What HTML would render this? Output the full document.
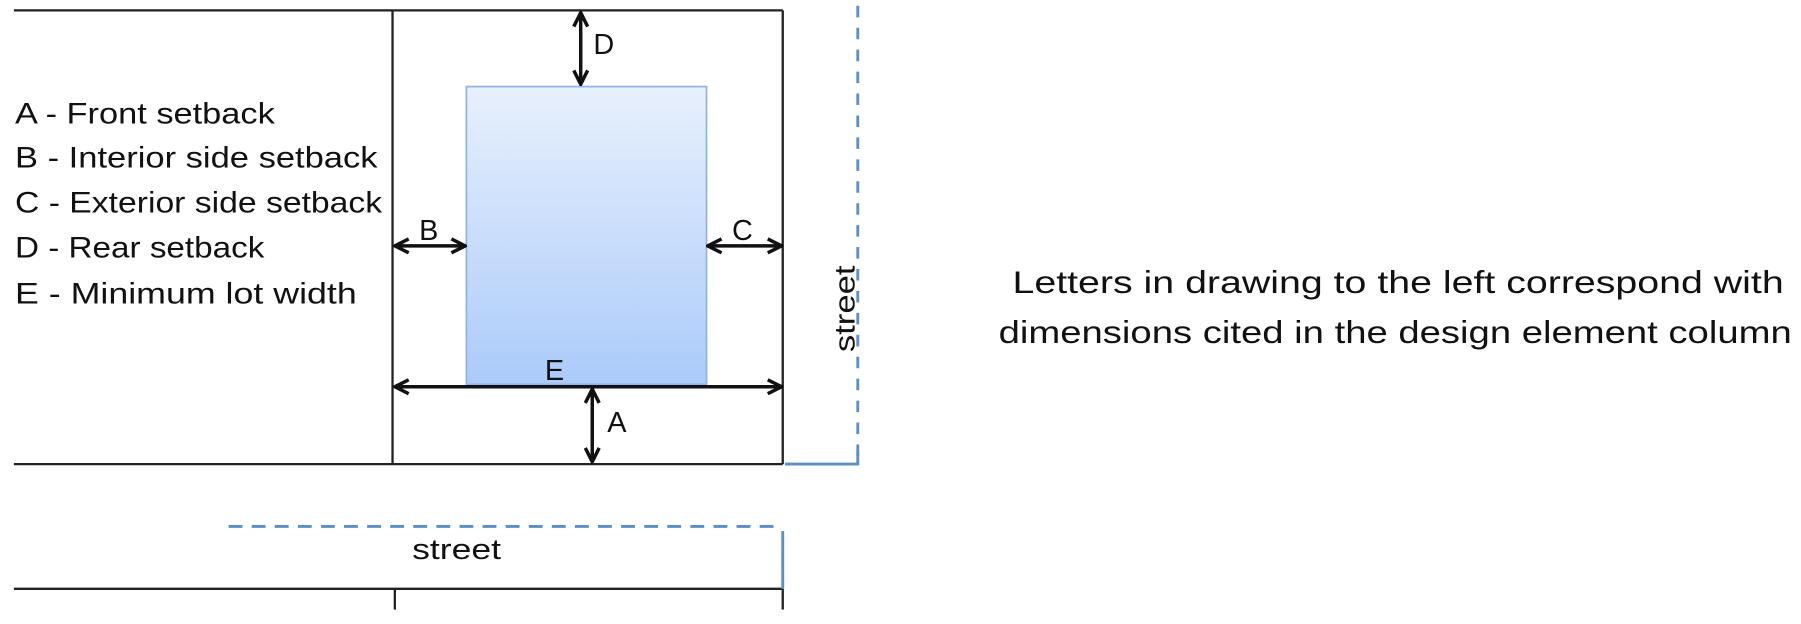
<!DOCTYPE html>
<html><head><meta charset="utf-8"><style>
html,body{margin:0;padding:0;background:#fff;}
svg{display:block;}
text{font-family:"Liberation Sans",sans-serif;fill:#111;}
</style></head><body>
<svg width="1801" height="624" viewBox="0 0 1560 540.5" preserveAspectRatio="none" xmlns="http://www.w3.org/2000/svg">
<defs>
<linearGradient id="g" x1="0" y1="0" x2="0" y2="1">
<stop offset="0" stop-color="#e8f0fd"/><stop offset="1" stop-color="#abcbfa"/>
</linearGradient>
<marker id="ah" viewBox="0 0 10 10" refX="9" refY="5" markerWidth="5" markerHeight="5" orient="auto-start-reverse">
<path d="M1,1 L9,5 L1,9" fill="none" stroke="#111" stroke-width="2"/>
</marker>
</defs>
<g stroke="#222" stroke-width="2" fill="none">
<line x1="12" y1="9" x2="678" y2="9"/>
<line x1="340" y1="9" x2="340" y2="402"/>
<line x1="678" y1="9" x2="678" y2="402"/>
<line x1="12" y1="402" x2="678" y2="402"/>
<line x1="12" y1="510" x2="678" y2="510"/>
<line x1="342" y1="510" x2="342" y2="528"/>
<line x1="678" y1="510" x2="678" y2="528"/>
</g>
<rect x="404" y="75" width="208" height="258" fill="url(#g)" stroke="#8fb3e8" stroke-width="1.5"/>
<g stroke="#111" stroke-width="3" fill="none" marker-start="url(#ah)" marker-end="url(#ah)">
<line x1="503" y1="11" x2="503" y2="73"/>
<line x1="342" y1="213" x2="403" y2="213"/>
<line x1="613" y1="213" x2="677" y2="213"/>
<line x1="342" y1="335" x2="677" y2="335"/>
<line x1="513" y1="337" x2="513" y2="400"/>
</g>
<g stroke="#5b8fc7" stroke-width="2.5" fill="none">
<line x1="743" y1="5" x2="743" y2="400" stroke-dasharray="10,9"/>
<polyline points="680,402 743,402 743,392"/>
<line x1="198" y1="456" x2="676" y2="456" stroke-dasharray="12,8"/>
<line x1="678" y1="460" x2="678" y2="510"/>
</g>
<g font-size="25">
<text x="514" y="47">D</text>
<text x="363" y="208">B</text>
<text x="634" y="208">C</text>
<text x="472" y="329">E</text>
<text x="526" y="374">A</text>
<text x="357" y="484" textLength="77" lengthAdjust="spacingAndGlyphs">street</text>
<text transform="translate(740,305) rotate(-90)" textLength="75" lengthAdjust="spacingAndGlyphs">street</text>
</g>
<g font-size="26">
<text x="13" y="107" textLength="225" lengthAdjust="spacingAndGlyphs">A - Front setback</text>
<text x="13" y="145" textLength="314" lengthAdjust="spacingAndGlyphs">B - Interior side setback</text>
<text x="13" y="184" textLength="318" lengthAdjust="spacingAndGlyphs">C - Exterior side setback</text>
<text x="13" y="223" textLength="216" lengthAdjust="spacingAndGlyphs">D - Rear setback</text>
<text x="13" y="263" textLength="296" lengthAdjust="spacingAndGlyphs">E - Minimum lot width</text>
</g>
<g font-size="27">
<text x="877" y="254" textLength="668" lengthAdjust="spacingAndGlyphs">Letters in drawing to the left correspond with</text>
<text x="865" y="297" textLength="687" lengthAdjust="spacingAndGlyphs">dimensions cited in the design element column</text>
</g>
</svg>
</body></html>
